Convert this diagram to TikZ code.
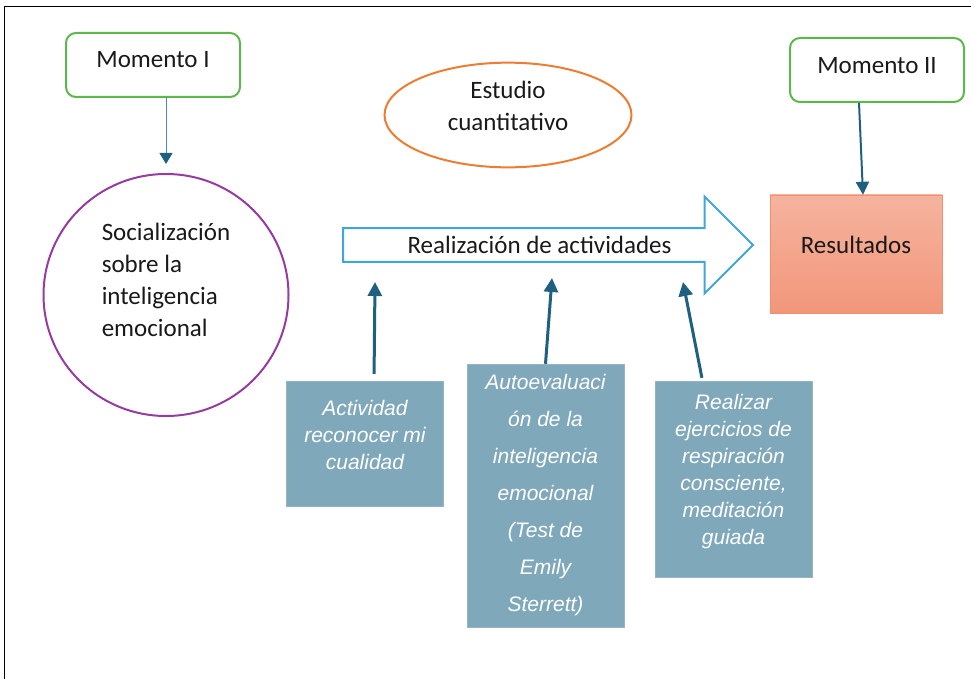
\documentclass[tikz,border=0pt]{standalone}
\usepackage{fontspec}
\setmainfont{Carlito}
\newfontfamily\cajafont{Liberation Sans}
\usetikzlibrary{arrows.meta,shapes.geometric,shapes.arrows}
\definecolor{verde}{RGB}{92,184,76}
\definecolor{morado}{RGB}{150,60,160}
\definecolor{naranja}{RGB}{237,125,49}
\definecolor{celeste}{RGB}{66,165,218}
\definecolor{azulcaja}{RGB}{127,168,187}
\definecolor{azuloscuro}{RGB}{31,96,128}
\definecolor{azulfino}{RGB}{74,140,170}
\definecolor{salmonA}{RGB}{245,180,158}
\definecolor{salmonB}{RGB}{242,150,122}
\tikzset{
>=Stealth,
momento/.style={draw=verde,line width=2pt,rounded corners=10pt,fill=white,minimum width=174pt,minimum height=64pt},
caja/.style={fill=azulcaja,draw=azulcaja!85!white,text=white,align=center,inner sep=0pt,
  minimum width=157pt,font=\cajafont\itshape\fontsize{21}{27}\selectfont},
flecha/.style={-{Triangle[length=14pt,width=14pt]},line width=3pt,draw=azuloscuro},
flechafina/.style={-{Triangle[length=11pt,width=13pt,color=azuloscuro]},line width=1pt,draw=azulfino}}

\begin{document}
\begin{tikzpicture}[x=1pt,y=-1pt,font=\fontsize{25}{32}\selectfont,text=black!90]

\useasboundingbox (0,0) rectangle (971,679);
\draw[line width=1pt] (4,679) -- (4,7) -- (971,7);

\node[momento,text depth=11pt] (m1) at (153,65) {Momento I};
\node[momento,text depth=10pt] (m2) at (877,70) {Momento II};

\node[ellipse,draw=morado,line width=2pt,minimum width=245pt,minimum height=242pt,align=left,text depth=30pt] (social) at (166,295)
  {Socialización\\sobre la\\inteligencia\\emocional};
\node[ellipse,draw=naranja,line width=2pt,minimum width=247pt,minimum height=104pt,align=center,text depth=18pt] (estudio) at (508,115)
  {Estudio\\cuantitativo};

\node[single arrow,draw=celeste,line width=2pt,minimum height=410pt,minimum width=97pt,
  single arrow head extend=24.5pt,single arrow head indent=0pt,anchor=tail] (act) at (342,245)
  {Realización de actividades};

\node[draw=salmonB!80!naranja,top color=salmonA,bottom color=salmonB,minimum width=172pt,minimum height=118pt,text depth=18pt] (res) at (856,254)
  {Resultados};

\node[caja,minimum height=125pt,text depth=18pt] (cajaA) at (365,443.5) {Actividad\\reconocer mi\\cualidad};
\node[caja,minimum height=263pt,font=\cajafont\itshape\fontsize{21}{37}\selectfont] (cajaB) at (545.5,495.5)
  {Autoevaluaci\\ón de la\\inteligencia\\emocional\\(Test de\\Emily\\Sterrett)};
\node[caja,minimum height=196pt,text depth=20pt] (cajaC) at (733.5,479) {Realizar\\ejercicios de\\respiración\\consciente,\\meditación\\guiada};

\coordinate (uA) at (375,282);
\coordinate (uB) at (552,278);
\coordinate (uC) at (683,282);

\draw[flechafina,shorten >=9pt] (m1.south -| social.north) -- (social.north);
\draw[flecha,line width=2pt,-{Triangle[length=13pt,width=13pt]}] ([xshift=-18pt]m2.south) -- ([xshift=7pt]res.north);
\draw[flecha,shorten <=7pt] ([xshift=9pt]cajaA.north) -- (uA);
\draw[flecha] (cajaB.north) -- (uB);
\draw[flecha,shorten <=3pt] ([xshift=-31pt]cajaC.north) -- (uC);

\end{tikzpicture}
\end{document}
